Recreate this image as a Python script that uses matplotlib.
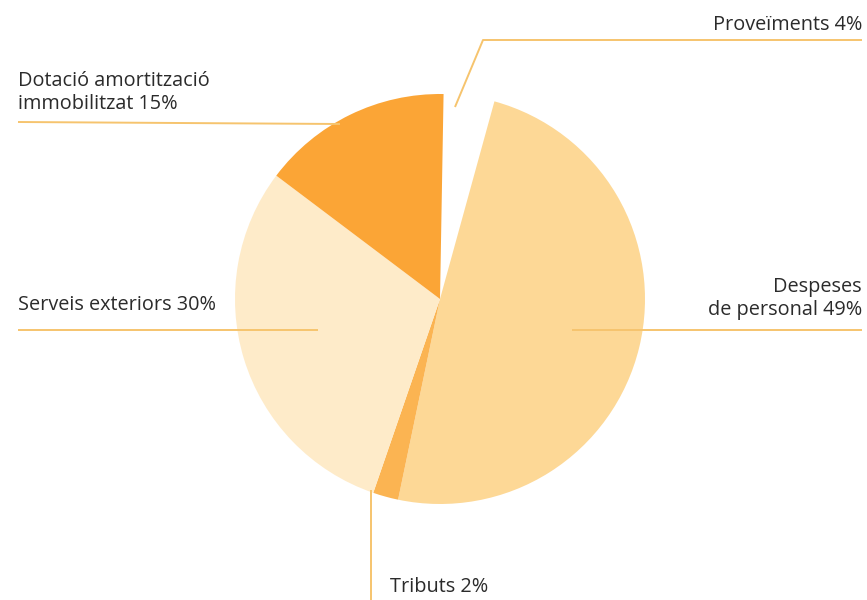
import matplotlib.pyplot as plt

# cost breakdown (percent)
labels = ["Proveïments 4%", "Despeses\nde personal 49%", "Tributs 2%",
          "Serveis exteriors 30%", "Dotació amortització\nimmobilitzat 15%"]
shares = [4, 49, 2, 30, 15]
colors = ["#ffffff", "#fdd896", "#fbb452", "#feebc9", "#fba536"]

W, H = 867, 600
fig = plt.figure(figsize=(W / 100, H / 100), dpi=100)
ax = fig.add_axes([0, 0, 1, 1])

def py(y):
    # flip screen-style y to axes y
    return H - y

cx, cy, r = 440, py(299), 205
ax.pie(shares, colors=colors, startangle=89, counterclock=False,
       center=(cx, cy), radius=r, frame=True,
       wedgeprops=dict(linewidth=0))
ax.set_xlim(0, W)
ax.set_ylim(0, H)
ax.set_aspect("equal")
ax.axis("off")

line_kw = dict(color="#f6c46e", lw=1.4, solid_capstyle="butt", zorder=3)
# leader lines
ax.plot([455, 483, 862], [py(107), py(40), py(40)], **line_kw)
ax.plot([18, 340], [py(122), py(124)], **line_kw)
ax.plot([18, 318], [py(330), py(330)], **line_kw)
ax.plot([572, 862], [py(330), py(330)], **line_kw)
ax.plot([371, 371], [py(490), py(600)], **line_kw)

txt_kw = dict(fontsize=14.3, color="#2b2b2b", family="Open Sans", va="baseline",
              linespacing=1.22)
ax.text(862, py(30), labels[0], ha="right", **txt_kw)
ax.text(862, py(315), labels[1], ha="right", multialignment="right", **txt_kw)
ax.text(390, py(592), labels[2], ha="left", **txt_kw)
ax.text(18, py(310), labels[3], ha="left", **txt_kw)
ax.text(18, py(109), labels[4], ha="left", **txt_kw)

fig.savefig("out.png", dpi=100)
